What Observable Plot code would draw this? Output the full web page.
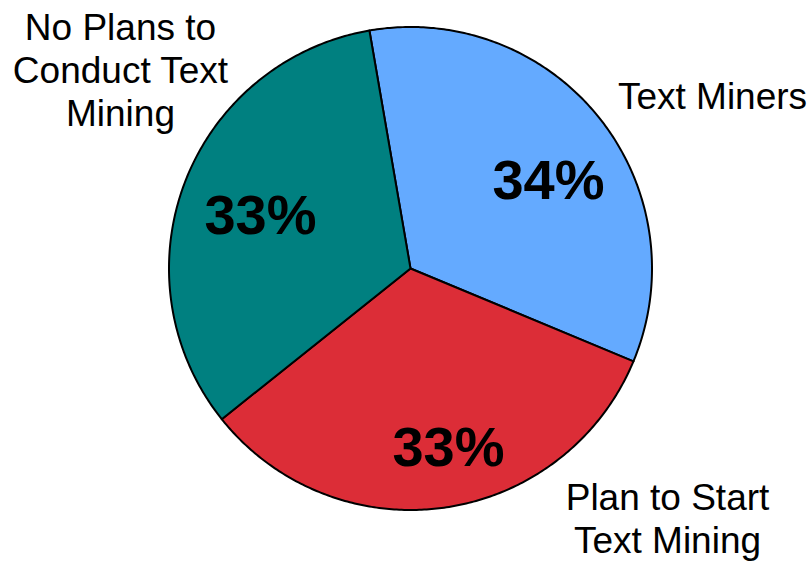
<!DOCTYPE html>
<html>
<head>
<meta charset="utf-8">
<script src="https://cdn.jsdelivr.net/npm/d3@7"></script>
<script src="https://cdn.jsdelivr.net/npm/@observablehq/plot@0.6"></script>
<style>
  html, body { margin: 0; padding: 0; background: #fff; }
  #chart { width: 808px; height: 562px; }
</style>
</head>
<body>
<div id="chart"></div>
<script>
// ---- data ----
const categories = ["Text Miners", "Plan to Start\nText Mining", "No Plans to\nConduct Text\nMining"];
const shares = [34, 33, 33];
const pctLabels = ["34%", "33%", "33%"];
const colors = ["#64aaff", "#dc2d37", "#008080"];

// ---- layout (pixel-unit coordinates relative to pie centre) ----
const W = 808, H = 562;
const cx = 410, cy = 268, R = 241.5;
const startAngle = -0.171; // radians, clockwise from 12 o'clock
const pctOffsets = [[138, -87], [38, 180], [-150, -52]];
const outerPos = [[302, -173], [257, 249], [-290, -199]];

const pie = d3.pie().sort(null).startAngle(startAngle).endAngle(startAngle + 2 * Math.PI)(shares);

const wedges = pie.map((a, i) => {
  const pts = [{x: 0, y: 0}];
  const n = 200;
  for (let k = 0; k <= n; k++) {
    const t = a.startAngle + (a.endAngle - a.startAngle) * k / n;
    pts.push({x: R * Math.sin(t), y: -R * Math.cos(t)});
  }
  return {pts, color: colors[i]};
});

const pctData = pctLabels.map((t, i) => ({t, x: pctOffsets[i][0], y: pctOffsets[i][1]}));
const outerData = categories.map((t, i) => ({t, x: outerPos[i][0], y: outerPos[i][1]}));

const plot = Plot.plot({
  width: W, height: H,
  margin: 0,
  x: {domain: [-cx, W - cx], axis: null},
  y: {domain: [-cy, H - cy], reverse: true, axis: null},
  style: {fontFamily: "'Liberation Sans', Arial, sans-serif", background: "#fff"},
  marks: [
    ...wedges.map(w => Plot.line(w.pts, {
      x: "x", y: "y", fill: w.color, stroke: "black", strokeWidth: 2,
      curve: "linear-closed", strokeLinejoin: "round"
    })),
    Plot.text(pctData, {x: "x", y: "y", text: "t", fontSize: 56, fontWeight: "bold", fill: "black"}),
    Plot.text(outerData, {x: "x", y: "y", text: "t", fontSize: 37, lineHeight: 1.16, fill: "black"})
  ]
});
document.getElementById("chart").appendChild(plot);
</script>
</body>
</html>
